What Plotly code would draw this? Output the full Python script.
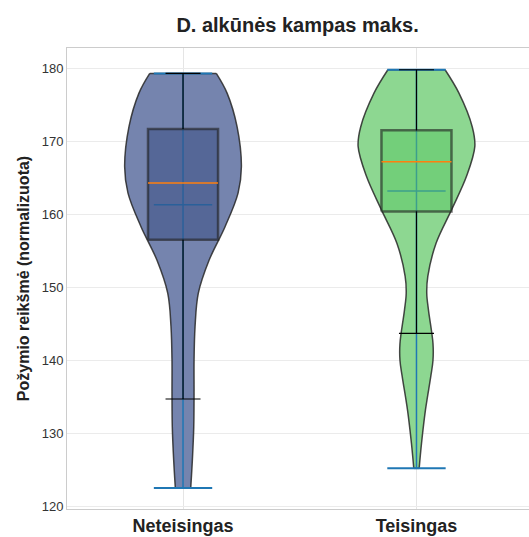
import plotly.graph_objects as go

# ---------------- data ----------------
categories = ["Neteisingas", "Teisingas"]

# violin profiles: value levels (top -> bottom) and relative density (1 = widest)
neteis_levels = [179.3, 176.6, 172.0, 166.5, 162.9, 158.3, 153.7, 149.2, 144.6, 140.0, 135.5, 130.9, 126.3, 122.5]
neteis_density = [0.57, 0.755, 0.926, 1.0, 0.943, 0.72, 0.446, 0.262, 0.206, 0.189, 0.189, 0.184, 0.16, 0.132]

teis_levels = [179.8, 176.6, 172.0, 169.3, 165.2, 160.6, 156.0, 151.5, 149.2, 146.9, 142.3, 140.0, 137.8, 133.2, 128.6, 125.2]
teis_density = [0.49, 0.728, 0.955, 1.0, 0.857, 0.60, 0.334, 0.194, 0.176, 0.205, 0.283, 0.283, 0.245, 0.154, 0.086, 0.046]

# summary statistics per category
mins = [122.5, 125.2]
maxs = [179.3, 179.8]
means = [161.3, 163.2]
medians = [164.3, 167.2]
q1s = [156.5, 160.4]
q3s = [171.7, 171.5]
whisker_lows = [134.7, 143.7]
whisker_highs = [179.3, 179.8]

y_ticks = [120, 130, 140, 150, 160, 170, 180]

# ---------------- styling ----------------
violin_fill = ["rgb(117,132,174)", "rgb(141,215,145)"]
box_fill = ["rgba(53,74,127,0.5)", "rgba(89,199,99,0.5)"]
box_edge = "rgba(30,30,30,0.6)"
violin_edge = "rgba(40,40,40,0.85)"
blue = "#1f77b4"
orange = "#ff7f0e"
violin_half = 0.25
ext_half = 0.125
box_half = 0.15
cap_half = 0.075
FONT = "Liberation Sans, Arial, sans-serif"

profiles = [(neteis_levels, neteis_density), (teis_levels, teis_density)]

fig = go.Figure()


def hline(pos, y, half, color, width):
    fig.add_trace(go.Scatter(x=[pos - half, pos + half], y=[y, y], mode="lines",
                             line=dict(color=color, width=width), hoverinfo="skip", showlegend=False))


def vline(pos, y0, y1, color, width):
    fig.add_trace(go.Scatter(x=[pos, pos], y=[y0, y1], mode="lines",
                             line=dict(color=color, width=width), hoverinfo="skip", showlegend=False))


for i, cat in enumerate(categories):
    pos = i
    levels, dens = profiles[i]
    right_x = [pos + violin_half * d for d in dens]
    left_x = [pos - violin_half * d for d in dens]
    # right side outline
    fig.add_trace(go.Scatter(x=right_x, y=levels, mode="lines",
                             line=dict(color=violin_edge, width=1.5, shape="spline", smoothing=1.0),
                             hoverinfo="skip", showlegend=False))
    # left side outline, filled horizontally to the right side
    fig.add_trace(go.Scatter(x=left_x, y=levels, mode="lines", fill="tonextx", fillcolor=violin_fill[i],
                             line=dict(color=violin_edge, width=1.5, shape="spline", smoothing=1.0),
                             hoverinfo="skip", showlegend=False))
    # flat top / bottom edges
    for k in (0, -1):
        fig.add_trace(go.Scatter(x=[left_x[k], right_x[k]], y=[levels[k], levels[k]], mode="lines",
                                 line=dict(color=violin_edge, width=1.5), hoverinfo="skip", showlegend=False))
    # violin bars: vertical range, extrema and mean
    vline(pos, mins[i], maxs[i], blue, 1.5)
    hline(pos, mins[i], ext_half, blue, 2)
    hline(pos, maxs[i], ext_half, blue, 2)
    hline(pos, means[i], ext_half, blue, 1.5)
    # box
    bx = [pos - box_half, pos + box_half, pos + box_half, pos - box_half, pos - box_half]
    by = [q1s[i], q1s[i], q3s[i], q3s[i], q1s[i]]
    fig.add_trace(go.Scatter(x=bx, y=by, mode="lines", fill="toself", fillcolor=box_fill[i],
                             line=dict(color=box_edge, width=2.5), hoverinfo="skip", showlegend=False))
    # whiskers and caps
    vline(pos, q1s[i], whisker_lows[i], "black", 1.2)
    vline(pos, q3s[i], whisker_highs[i], "black", 1.2)
    hline(pos, whisker_lows[i], cap_half, "black", 1.2)
    hline(pos, whisker_highs[i], cap_half, "black", 1.2)
    # median
    hline(pos, medians[i], box_half, orange, 1.5)

fig.update_layout(
    width=529, height=537,
    margin=dict(l=67, r=0, t=48, b=28),
    paper_bgcolor="white", plot_bgcolor="white",
    font=dict(family=FONT, color="#333333"),
    title=dict(text="<b>D. alkūnės kampas maks.</b>", x=0.5625, xanchor="center", y=0.953, yanchor="middle",
               font=dict(size=20, color="#222222", family=FONT)),
    showlegend=False,
)
fig.update_xaxes(range=[-0.497, 1.482], tickvals=[0, 1],
                 ticktext=["<b>%s</b>" % c for c in categories],
                 tickfont=dict(size=18, color="#222222"),
                 showgrid=True, gridcolor="#e5e5e5", gridwidth=1,
                 zeroline=False, showline=True, linecolor="#cccccc", linewidth=1, mirror=True,
                 ticks="", ticklen=0)
fig.update_yaxes(range=[119.63, 182.78], tickvals=y_ticks,
                 tickfont=dict(size=13, color="#333333"),
                 title=dict(text="<b>Požymio reikšmė (normalizuota)</b>", font=dict(size=16, color="#222222"), standoff=8),
                 showgrid=True, gridcolor="#ebebeb", gridwidth=1,
                 zeroline=False, showline=True, linecolor="#cccccc", linewidth=1,
                 ticks="", ticklen=0)

fig.write_html("out.html")
